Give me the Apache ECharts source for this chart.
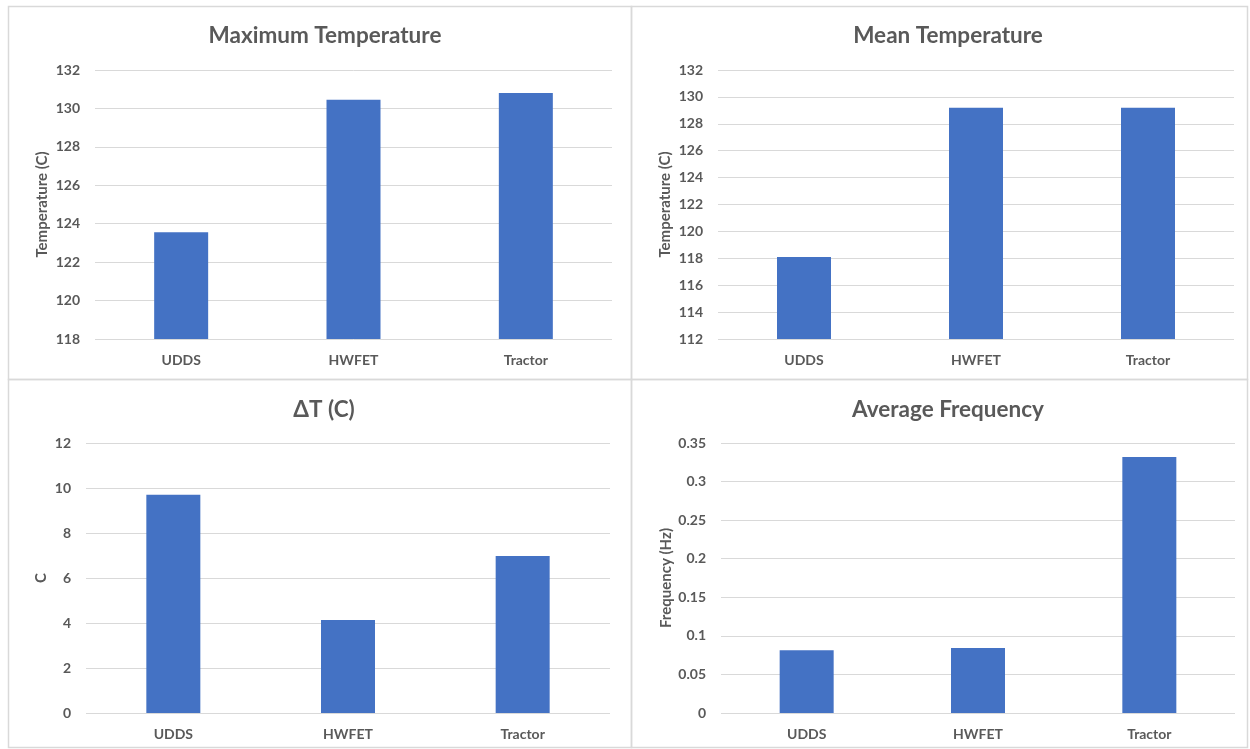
<!DOCTYPE html>
<html>
<head>
<meta charset="utf-8">
<script src="https://cdn.jsdelivr.net/npm/echarts@6/dist/echarts.min.js"></script>
<style>html,body{margin:0;padding:0;background:#fff}#c{width:1250px;height:749px}</style>
</head>
<body>
<div id="c"></div>
<script>
const categories = ['UDDS', 'HWFET', 'Tractor'];
const maxTemp = [123.55, 130.45, 130.8];
const meanTemp = [118.1, 129.2, 129.2];
const deltaT = [9.7, 4.13, 6.98];
const avgFreq = [0.0815, 0.0843, 0.332];
const titles = ['Maximum Temperature', 'Mean Temperature', '\u0394T (C)', 'Average Frequency'];
const yNames = ['Temperature (C)', 'Temperature (C)', 'C', 'Frequency (Hz)'];
const yMin = [118, 112, 0, 0];
const yMax = [132, 132, 12, 0.35];
const yInterval = [2, 2, 2, 0.05];

const FONT = 'Lato, "Open Sans", sans-serif';
const TXT = '#595959';
const grids = [
  {left: 95, right: 638, top: 70, height: 269},
  {left: 718, right: 16, top: 70, height: 269},
  {left: 86, right: 640, top: 443, height: 270},
  {left: 721, right: 15, top: 443, height: 270}
];
const nameGaps = [45, 45, 37, 47];
const titlePos = [{x: 320, y: 19}, {x: 943, y: 19}, {x: 319, y: 393}, {x: 943, y: 393}];
const seriesData = [maxTemp, meanTemp, deltaT, avgFreq];

const option = {
  animation: false,
  backgroundColor: '#fff',
  title: titles.map((t, i) => ({
    text: t, left: titlePos[i].x, top: titlePos[i].y, textAlign: 'center',
    textStyle: {fontFamily: FONT, fontSize: 22.5, fontWeight: 'bold', color: TXT}
  })),
  grid: grids,
  xAxis: grids.map((g, i) => ({
    type: 'category', gridIndex: i, data: categories,
    axisLine: {show: false}, axisTick: {show: false},
    axisLabel: {fontFamily: FONT, fontSize: 14, fontWeight: 'bold', color: TXT, margin: 14}
  })),
  yAxis: grids.map((g, i) => ({
    type: 'value', gridIndex: i, min: yMin[i], max: yMax[i], interval: yInterval[i],
    name: yNames[i], nameLocation: 'middle', nameGap: nameGaps[i], nameRotate: 90,
    nameTextStyle: {fontFamily: FONT, fontSize: 15, fontWeight: 'bold', color: TXT},
    axisLine: {show: false}, axisTick: {show: false},
    axisLabel: {fontFamily: FONT, fontSize: 14, fontWeight: 'bold', color: TXT, margin: 15},
    splitLine: {lineStyle: {color: '#d9d9d9', width: 1}}
  })),
  series: seriesData.map((d, i) => ({
    type: 'bar', xAxisIndex: i, yAxisIndex: i, data: d, barWidth: 54,
    itemStyle: {color: '#4472c4'}
  })),
  graphic: [
    {type: 'rect', shape: {x: 8.5, y: 6.5, width: 623, height: 373}, style: {fill: 'none', stroke: '#d9d9d9', lineWidth: 1.5}},
    {type: 'rect', shape: {x: 631.5, y: 6.5, width: 616, height: 373}, style: {fill: 'none', stroke: '#d9d9d9', lineWidth: 1.5}},
    {type: 'rect', shape: {x: 8.5, y: 379.5, width: 623, height: 368}, style: {fill: 'none', stroke: '#d9d9d9', lineWidth: 1.5}},
    {type: 'rect', shape: {x: 631.5, y: 379.5, width: 616, height: 368}, style: {fill: 'none', stroke: '#d9d9d9', lineWidth: 1.5}}
  ]
};
const chart = echarts.init(document.getElementById('c'), null, {renderer: 'canvas'});
chart.setOption(option);
</script>
</body>
</html>
